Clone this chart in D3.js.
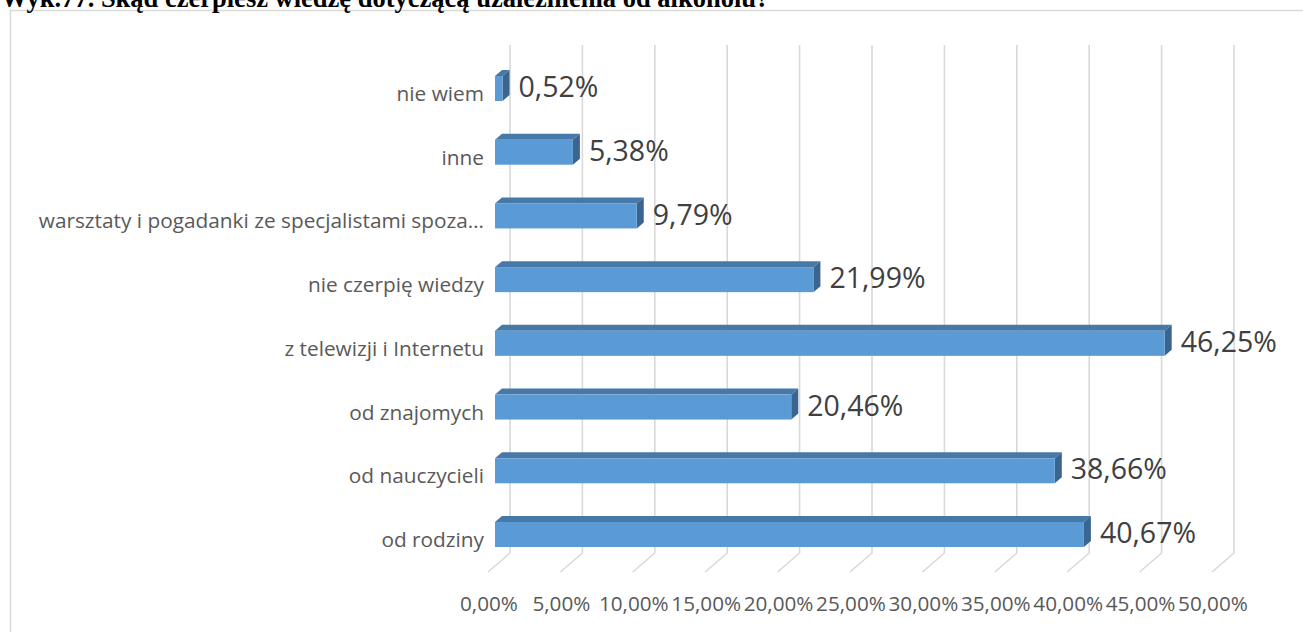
<!DOCTYPE html>
<html><head><meta charset="utf-8">
<script src="https://cdn.jsdelivr.net/npm/d3@7"></script>
<style>
html,body{margin:0;padding:0;background:#fff;overflow:hidden;}
svg{display:block;}
</style></head>
<body>
<svg id="chart" width="1303" height="632"></svg>
<script>
const titleText = "Wyk.77. Skąd czerpiesz wiedzę dotyczącą uzależnienia od alkoholu?";
const categories = ["nie wiem","inne","warsztaty i pogadanki ze specjalistami spoza…","nie czerpię wiedzy","z telewizji i Internetu","od znajomych","od nauczycieli","od rodziny"];
const values = [0.52, 5.38, 9.79, 21.99, 46.25, 20.46, 38.66, 40.67];
const tickValues = [0,5,10,15,20,25,30,35,40,45,50];

const svg = d3.select("#chart");
const pl = d3.formatLocale({decimal:",", thousands:" ", grouping:[3], currency:["","zł"]});
const fmt = v => pl.format(".2f")(v) + "%";

// frame
svg.append("rect").attr("x",10.5).attr("y",10.5).attr("width",1310).attr("height",640)
  .attr("fill","#fff").attr("stroke","#d9d9d9").attr("stroke-width",1.5);

// title (clipped at top as in reference)
svg.append("text").attr("x",1).attr("y",7)
  .attr("font-family","'Liberation Serif','Times New Roman',serif").attr("font-weight","bold")
  .attr("font-size",26.5).attr("fill","#000").text(titleText);

const x = d3.scaleLinear().domain([0,50]).range([510,1234]); // back wall
const floorDx = -22, floorDy = 19;
const frontOff = -15; // bar front face offset from back wall position
const sideDx = 7, sideDy = -6;
const gridTop = 45, gridBot = 553;

const y = d3.scalePoint().domain(categories).range([88.5,534.5]);
const barH = 25;

// gridlines
const g = svg.append("g");
tickValues.forEach(t => {
  const xx = x(t);
  g.append("path").attr("d",`M${xx},${gridTop}L${xx},${gridBot}L${xx+floorDx},${gridBot+floorDy}`)
    .attr("fill","none").attr("stroke","#d9d9d9").attr("stroke-width",1.6);
});

// axis labels
tickValues.forEach(t => {
  svg.append("text").attr("x",x(t)+floorDx+1).attr("y",605).attr("text-anchor","middle")
    .attr("dominant-baseline","middle").attr("font-family","'Open Sans',sans-serif")
    .attr("font-size",20.7).attr("fill","#595959").text(fmt(t));
});

// bars
const bars = svg.append("g");
categories.forEach((c,i) => {
  const v = values[i];
  const x0 = x(0)+frontOff, x1 = x(v)+frontOff;
  const yc = y(c), yt = yc - barH/2, yb = yc + barH/2;
  // top face
  bars.append("path").attr("d",`M${x0},${yt}L${x0+sideDx},${yt+sideDy}L${x1+sideDx},${yt+sideDy}L${x1},${yt}Z`)
    .attr("fill","#4678a8");
  // side face
  bars.append("path").attr("d",`M${x1},${yt}L${x1+sideDx},${yt+sideDy}L${x1+sideDx},${yb+sideDy}L${x1},${yb}Z`)
    .attr("fill","#3a658e");
  // front face
  bars.append("rect").attr("x",x0).attr("y",yt).attr("width",x1-x0).attr("height",barH)
    .attr("fill","#5b9bd5");
  // value label
  svg.append("text").attr("x",x1+sideDx+9).attr("y",yc+1).attr("dominant-baseline","middle")
    .attr("font-family","'Open Sans',sans-serif").attr("font-size",28.5).attr("fill","#404040").text(fmt(v));
  // category label
  svg.append("text").attr("x",484).attr("y",yc+7).attr("text-anchor","end").attr("dominant-baseline","middle")
    .attr("font-family","'Open Sans',sans-serif").attr("font-size",20.8).attr("fill","#595959").text(c);
});
</script>
</body></html>
